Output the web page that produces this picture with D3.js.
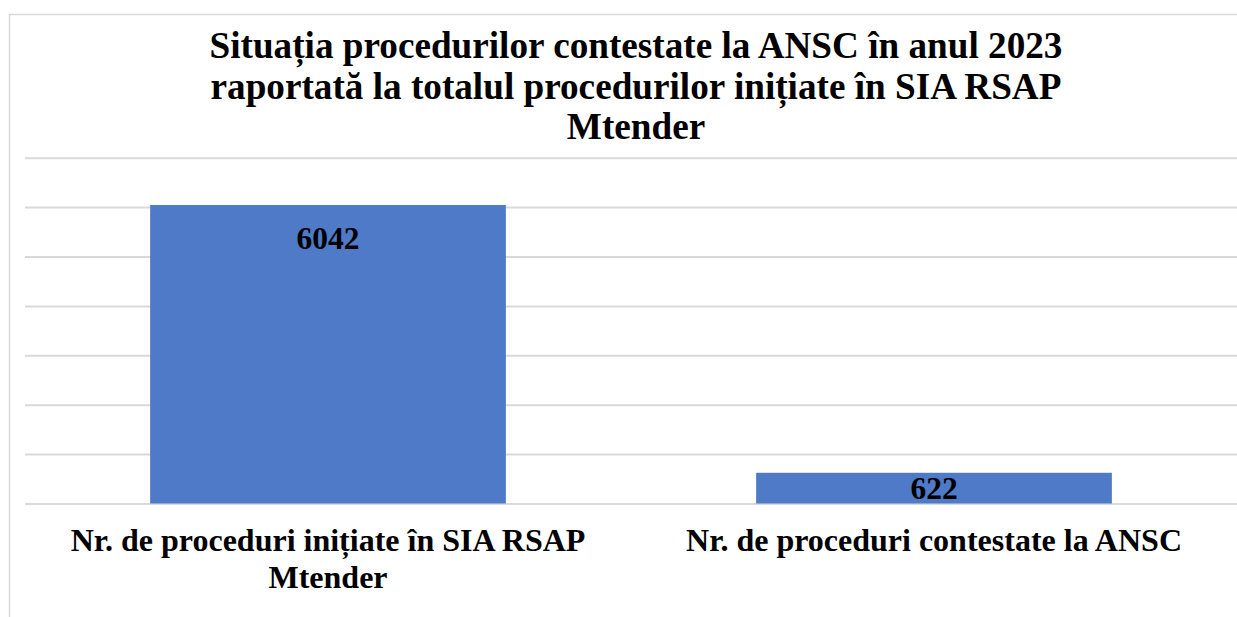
<!DOCTYPE html>
<html>
<head>
<meta charset="utf-8">
<script src="https://cdn.jsdelivr.net/npm/d3@7"></script>
<style>
  html, body { margin: 0; padding: 0; background: #fff; }
  svg { display: block; }
  text { font-family: "Liberation Serif", "Times New Roman", serif; font-weight: bold; fill: #000; }
</style>
</head>
<body>
<script>
var width = 1237, height = 617;

// data
var categories = [
  ["Nr. de proceduri inițiate în SIA RSAP", "Mtender"],
  ["Nr. de proceduri contestate la ANSC"]
];
var values = [6042, 622];
var yTicks = [0, 1000, 2000, 3000, 4000, 5000, 6000, 7000];
var titleLines = [
  "Situația procedurilor contestate la ANSC în anul 2023",
  "raportată la totalul procedurilor inițiate în SIA RSAP",
  "Mtender"
];

var margin = {top: 157.7, right: 0, bottom: 113.5, left: 25};

var svg = d3.select("body")
  .append("svg")
  .attr("width", width)
  .attr("height", height);

// chart border
svg.append("rect")
  .attr("x", 9.5)
  .attr("y", 14.5)
  .attr("width", width + 20)
  .attr("height", height)
  .attr("fill", "none")
  .attr("stroke", "#d9d9d9")
  .attr("stroke-width", 1.5);

// title
svg.append("g")
  .selectAll("text")
  .data(titleLines)
  .enter()
  .append("text")
  .attr("x", 636)
  .attr("y", function(d, i) { return 58 + i * 40.7; })
  .attr("text-anchor", "middle")
  .attr("font-size", 37.2)
  .text(function(d) { return d; });

var x = d3.scaleBand()
  .domain(d3.range(values.length))
  .range([margin.left, width - margin.right])
  .paddingInner(0.413)
  .paddingOuter(0.2065);

var y = d3.scaleLinear()
  .domain([0, 7000])
  .range([height - margin.bottom, margin.top]);

// gridlines
var grid = d3.axisLeft(y)
  .tickValues(yTicks)
  .tickSize(-(width - margin.left - margin.right))
  .tickFormat("");

svg.append("g")
  .attr("class", "grid")
  .attr("transform", "translate(" + margin.left + ",0)")
  .call(grid)
  .call(function(g) { g.select(".domain").remove(); })
  .call(function(g) {
    g.selectAll("line").attr("stroke", "#d9d9d9").attr("stroke-width", 2);
  });

// bars
svg.append("g")
  .selectAll("rect")
  .data(values)
  .enter()
  .append("rect")
  .attr("x", function(d, i) { return x(i); })
  .attr("y", function(d) { return y(d); })
  .attr("width", x.bandwidth())
  .attr("height", function(d) { return y(0) - y(d); })
  .attr("fill", "#4e7ac7");

// value labels
svg.append("g")
  .selectAll("text")
  .data(values)
  .enter()
  .append("text")
  .attr("x", function(d, i) { return x(i) + x.bandwidth() / 2; })
  .attr("y", function(d) {
    var c = Math.min(y(d) + 33, (y(d) + y(0)) / 2);
    return c + 10.5;
  })
  .attr("text-anchor", "middle")
  .attr("font-size", 31.5)
  .text(function(d) { return d; });

// category labels
var cat = svg.append("g")
  .selectAll("text")
  .data(categories)
  .enter()
  .append("text")
  .attr("text-anchor", "middle")
  .attr("font-size", 32)
  .attr("x", function(d, i) { return x(i) + x.bandwidth() / 2; })
  .attr("y", 551);

cat.selectAll("tspan")
  .data(function(d) { return d; })
  .enter()
  .append("tspan")
  .attr("x", function() { return d3.select(this.parentNode).attr("x"); })
  .attr("dy", function(d, i) { return i === 0 ? 0 : 37; })
  .text(function(d) { return d; });
</script>
</body>
</html>
